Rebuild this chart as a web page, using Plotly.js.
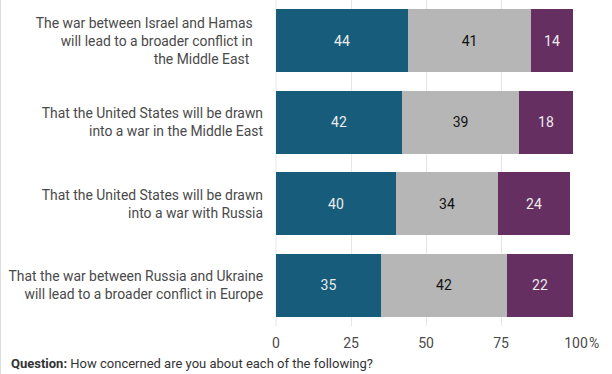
<!DOCTYPE html>
<html>
<head>
<meta charset="utf-8">
<script src="https://cdn.plot.ly/plotly-3.0.1.min.js"></script>
<style>html,body{margin:0;padding:0;background:#fff;}#chart{width:612px;height:374px;}</style>
</head>
<body>
<div id="chart"></div>
<script>
const categories = [
  "The war between Israel and Hamas\u00a0\u00a0\u00a0<br>will lead to a broader conflict in\u00a0\u00a0\u00a0<br>the Middle East\u00a0\u00a0\u00a0\u00a0",
  "That the United States will be drawn<br>into a war in the Middle East",
  "That the United States will be drawn<br>into a war with Russia",
  "That the war between Russia and Ukraine<br>will lead to a broader conflict in Europe"
];
const seriesNames = ["Extremely/very concerned", "Somewhat concerned", "Not very/not at all concerned"];
const veryConcerned = [44, 42, 40, 35];
const somewhatConcerned = [41, 39, 34, 42];
const notConcerned = [14, 18, 24, 22];
const xTickVals = [0, 25, 50, 75, 100];
const xTickText = ["0", "25", "50", "75", "100"];

const colors = ["#175c7b", "#b6b6b6", "#652f62"];
const textColors = ["#ececec", "#111111", "#ececec"];
const seriesValues = [veryConcerned, somewhatConcerned, notConcerned];

const traces = seriesValues.map((vals, i) => ({
  type: "bar",
  orientation: "h",
  name: seriesNames[i],
  y: categories,
  x: vals,
  text: vals.map(String),
  textposition: "inside",
  insidetextanchor: "middle",
  textangle: 0,
  textfont: {family: "Roboto, sans-serif", size: 14, color: textColors[i]},
  marker: {color: colors[i], line: {width: 0}},
  width: 0.77,
  hoverinfo: "skip"
}));

const layout = {
  width: 612,
  height: 374,
  margin: {l: 276, r: 36, t: 0, b: 48},
  barmode: "stack",
  showlegend: false,
  paper_bgcolor: "#ffffff",
  plot_bgcolor: "#ffffff",
  font: {family: "Roboto, sans-serif", size: 13, color: "#4a4a4a"},
  xaxis: {
    range: [0, 100],
    tickvals: xTickVals,
    ticktext: xTickText,
    showgrid: true,
    gridcolor: "#e6e6e6",
    gridwidth: 1,
    zeroline: false,
    showline: false,
    ticks: "",
    tickfont: {family: "Roboto, sans-serif", size: 14, color: "#4a4a4a"},
    ticklabelstandoff: 7,
    fixedrange: true
  },
  yaxis: {
    autorange: "reversed",
    showgrid: false,
    zeroline: false,
    showline: false,
    ticks: "",
    tickfont: {family: "Roboto, sans-serif", size: 13.9, color: "#4a4a4a"},
    ticklabelstandoff: 12,
    fixedrange: true
  },
  shapes: [
    {type: "line", xref: "paper", yref: "paper", x0: -275.5/300, x1: -275.5/300, y0: -1, y1: 1.2,
     line: {color: "#dcdcdc", width: 1}},
    {type: "line", xref: "paper", yref: "paper", x0: 0, x1: 0, y0: 0, y1: 1,
     line: {color: "#e6e6e6", width: 1}, layer: "below"}
  ],
  annotations: [
    {xref: "x", yref: "paper", x: 100, y: 0, xanchor: "left", yanchor: "top",
     xshift: 11, yshift: -7, showarrow: false, text: "%",
     font: {family: "Roboto, sans-serif", size: 14, color: "#4a4a4a"}},
    {xref: "paper", yref: "paper", x: -267/300, y: -37/326, xanchor: "left", yanchor: "middle",
     showarrow: false, text: "<b>Question:</b> How concerned are you about each of the following?",
     font: {family: "Roboto, sans-serif", size: 13, color: "#333333"}}
  ]
};

Plotly.newPlot("chart", traces, layout, {displayModeBar: false, staticPlot: true});
</script>
</body>
</html>
